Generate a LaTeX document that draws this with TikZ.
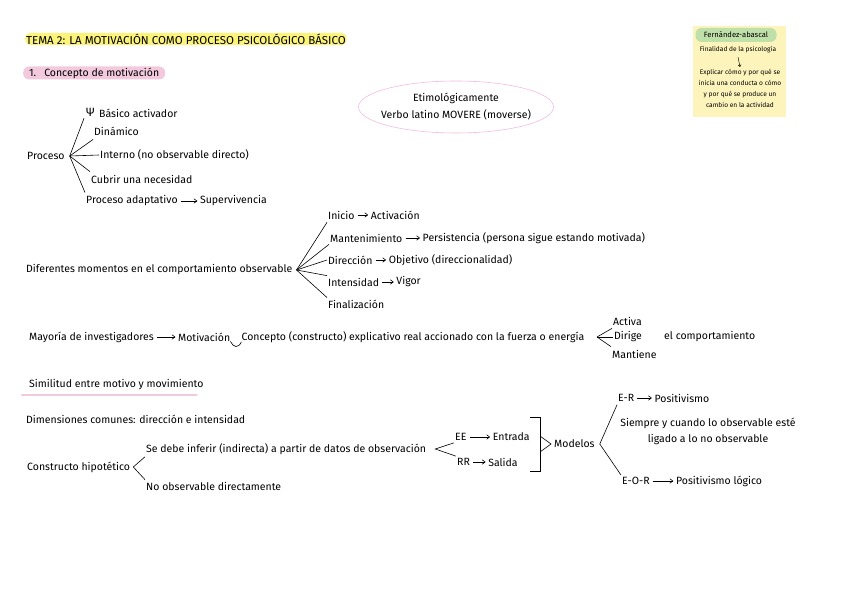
\documentclass[tikz,border=0pt]{standalone}
\usepackage{fontspec}
\setmainfont{Fira Sans}
\usetikzlibrary{arrows.meta,positioning,shapes.geometric}

\definecolor{hlyellow}{HTML}{FBF37A}
\definecolor{hlpink}{HTML}{F2C9DD}
\definecolor{boxyellow}{HTML}{FDF4BC}
\definecolor{pillgreen}{HTML}{BFE0A8}
\definecolor{ellpink}{HTML}{F4BCDB}

\tikzset{
  txt/.style={anchor=west, inner sep=1pt, font=\fontsize{10.5}{12}\selectfont},
  tiny/.style={inner sep=0.5pt, font=\fontsize{6.6}{10.8}\selectfont, align=center},
  branch/.style={line width=0.6pt},
  arr/.style={-{Straight Barb[length=3pt,width=4.5pt]}, line width=0.6pt, shorten <=2pt, shorten >=1.5pt},
}

\begin{document}
\begin{tikzpicture}[x=1pt, y=-1pt]
    \useasboundingbox (0,0) rectangle (848,599);

    % Title and section
    \node[txt, fill=hlyellow, rounded corners=5pt, minimum height=12pt, inner ysep=0pt,
          font=\fontsize{11.5}{12}\selectfont] (title) at (25,39)
        {TEMA 2: LA MOTIVACIÓN COMO PROCESO PSICOLÓGICO BÁSICO};
    \node[txt, fill=hlpink, rounded corners=6pt, minimum height=13pt, inner ysep=0pt, inner xsep=6pt] (sec) at (23,73)
        {1.\hspace{8pt}Concepto de motivación};

    % Fernandez-abascal box
    \fill[boxyellow] (693,26) rectangle (786,117);
    \node[tiny, fill=pillgreen, rounded corners=6pt, minimum width=81pt, minimum height=14pt,
          font=\fontsize{7.6}{8}\selectfont] (fern) at (736,35) {Fernández-abascal};
    \node[tiny] (fin) at (738,50) {Finalidad de la psicología};
    \node[tiny] (expl) at (740,88.5) {Explicar cómo y por qué se\\inicia una conducta o cómo\\y por qué se produce un\\cambio en la actividad};
    \draw[-{Straight Barb[length=1.8pt,width=3pt]}, line width=0.45pt] ([yshift=-3pt]fin.south) -- ([yshift=2pt]expl.north);

    % Etimologia
    \node[align=center, inner sep=1pt, font=\fontsize{10.5}{17}\selectfont] (etim) at (456,107)
        {Etimológicamente\\Verbo latino MOVERE (moverse)};
    \draw[ellpink, line width=0.6pt] (etim.center) ellipse (97.5 and 26);

    % Proceso
    \node[txt] (proc) at (26,156) {Proceso};
    \node[txt, inner sep=0pt, font=\fontsize{12}{12}\selectfont] (psi) at (86,112) {Ψ};
    \node[txt] (basico) at (98,113) {Básico activador};
    \node[txt] (dinam) at (93,131) {Dinámico};
    \node[txt] (interno) at (99,155) {Interno (no observable directo)};
    \node[txt] (cubrir) at (90,179) {Cubrir una necesidad};
    \node[txt] (adapt) at (85,201) {Proceso adaptativo};
    \node[txt, right=20pt of adapt] (superv) {Supervivencia};
    \coordinate (procv) at ([xshift=4pt]proc.east);
    \draw[branch] (procv) -- ([xshift=-2pt,yshift=-2pt]psi.south west);
    \draw[branch] (procv) -- ([yshift=-3pt]dinam.south west);
    \draw[branch] (procv) -- (interno.west);
    \draw[branch] (procv) -- ([yshift=2pt]cubrir.north west);
    \draw[branch] (procv) -- ([yshift=2pt]adapt.north west);
    \draw[arr] (adapt) -- (superv);

    % Diferentes momentos
    \node[txt] (mom) at (25,270) {Diferentes momentos en el comportamiento observable};
    \coordinate (momv) at ([xshift=3pt]mom.east);
    \node[txt] (ini) at (327,215) {Inicio};
    \node[txt, right=14pt of ini] (activ) {Activación};
    \node[txt] (mant) at (329,238) {Mantenimiento};
    \node[txt, right=18pt of mant] (persis) {Persistencia (persona sigue estando motivada)};
    \node[txt] (dir) at (327,260) {Dirección};
    \node[txt, right=14pt of dir] (objet) {Objetivo (direccionalidad)};
    \node[txt] (inten) at (327,282) {Intensidad};
    \node[txt, right=15pt of inten] (vigor) {Vigor};
    \node[txt] (final) at (327,304) {Finalización};
    \draw[branch] (momv) -- ([yshift=-2pt]ini.south west);
    \draw[branch] (momv) -- ([yshift=-1pt]mant.south west);
    \draw[branch] (momv) -- (dir.west);
    \draw[branch] (momv) -- ([yshift=1pt]inten.north west);
    \draw[branch] (momv) -- ([yshift=1pt]final.north west);
    \foreach \a/\b in {ini/activ, mant/persis, dir/objet, inten/vigor}
        \draw[arr] (\a) -- (\b);

    % Mayoria de investigadores
    \node[txt] (may) at (28,337) {Mayoría de investigadores};
    \node[txt, right=22pt of may] (motiv) {Motivación};
    \node[txt, right=9pt of motiv] (concepto) {Concepto (constructo) explicativo real accionado con la fuerza o energía};
    \node[txt] (activa) at (612,321) {Activa};
    \node[txt] (dirige) at (613,337) {Dirige};
    \node[txt] (mantiene) at (611,354) {Mantiene};
    \node[txt] (comport) at (663,337) {el comportamiento};
    \coordinate (fzv) at (597,337);
    \draw[arr] (may) -- (motiv);
    \draw[branch] ([xshift=-1pt,yshift=1pt]motiv.south east) .. controls ([xshift=2pt,yshift=-5pt]motiv.south east) and ([xshift=-2pt,yshift=-5pt]concepto.south west) .. ([xshift=1pt,yshift=2pt]concepto.south west);
    \draw[branch] (fzv) -- ([yshift=-2pt]activa.south west);
    \draw[branch] (fzv) -- (dirige.west);
    \draw[branch] (fzv) -- ([yshift=2pt]mantiene.north west);

    % Similitud entre motivo y movimiento
    \node[txt] (sim) at (28,385) {Similitud entre motivo y movimiento};
    \draw[hlpink, line width=2pt, line cap=round] ([xshift=-6pt,yshift=-4pt]sim.south west) -- ([xshift=-8pt,yshift=-4pt]sim.south east);
    \node[txt] (dim) at (25,419) {Dimensiones comunes: dirección e intensidad};

    % Constructo hipotetico
    \node[txt] (constr) at (26,467) {Constructo hipotético};
    \node[txt] (inferir) at (145,449) {Se debe inferir (indirecta) a partir de datos de observación};
    \node[txt] (noobs) at (145,486) {No observable directamente};
    \coordinate (constrv) at ([xshift=2pt]constr.east);
    \draw[branch] ([yshift=-1pt]inferir.south west) -- (constrv) -- ([yshift=1pt]noobs.north west);

    % EE / RR
    \node[txt] (ee) at (454,437) {EE};
    \node[txt, right=24pt of ee] (entrada) {Entrada};
    \node[txt] (rr) at (456,462) {RR};
    \node[txt, right=16pt of rr] (salida) {Salida};
    \coordinate (obsv) at ([xshift=8pt]inferir.east);
    \draw[branch] ([yshift=-1pt]ee.south west) -- (obsv) -- ([yshift=1pt]rr.north west);
    \draw[arr] (ee) -- (entrada);
    \draw[arr] (rr) -- (salida);

    % Modelos
    \node[txt] (modelos) at (553,444) {Modelos};
    \coordinate (brt) at (540,417);
    \coordinate (brb) at (540,471);
    \draw[branch] ([xshift=-10pt]brt) -- (brt) -- (brb) -- ([xshift=-10pt]brb);
    \draw[branch] ([yshift=-8pt]modelos.west -| brt) -- ([xshift=-2pt]modelos.west) -- ([yshift=8pt]modelos.west -| brt);

    \node[txt] (er) at (617,398) {E-R};
    \node[txt, right=18pt of er] (posit) {Positivismo};
    \node[align=center, inner sep=1pt, font=\fontsize{10.5}{16}\selectfont] (siempre) at (708,431)
        {Siempre y cuando lo observable esté\\ligado a lo no observable};
    \node[txt] (eor) at (621,481) {E-O-R};
    \node[txt, right=24pt of eor] (poslog) {Positivismo lógico};
    \coordinate (modv) at ([xshift=4pt]modelos.east);
    \draw[branch] ([yshift=-2pt]er.south west) -- (modv) -- ([yshift=1pt]eor.north west);
    \draw[arr] (er) -- (posit);
    \draw[arr] (eor) -- (poslog);
\end{tikzpicture}
\end{document}
